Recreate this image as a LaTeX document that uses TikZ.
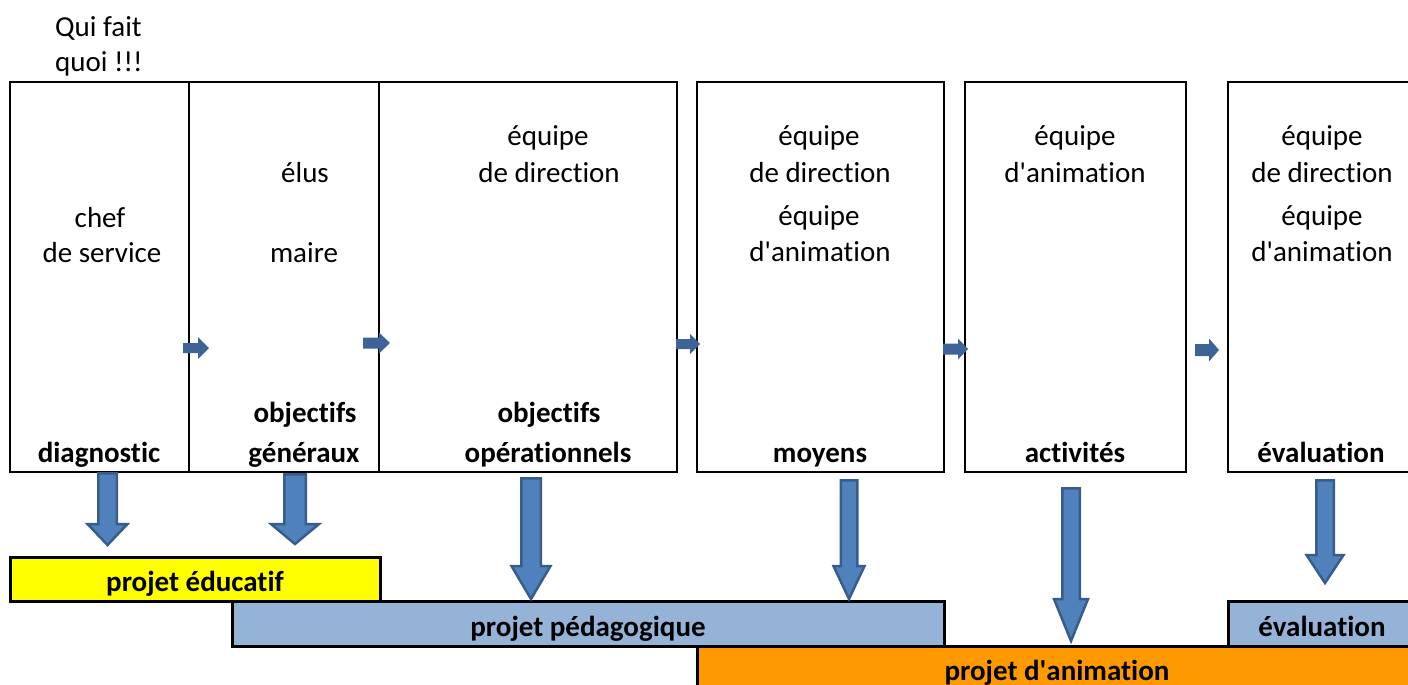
\documentclass[tikz,border=0pt]{standalone}
\usepackage{fontspec}
\setmainfont{Carlito}[Ligatures={NoCommon}]
\definecolor{arrfill}{HTML}{4F81BD}
\definecolor{arrline}{HTML}{385D8A}
\definecolor{harr}{HTML}{3C6496}
\definecolor{barblue}{HTML}{95B3D7}
\definecolor{baryellow}{HTML}{FFFF00}
\definecolor{barorange}{HTML}{FF9900}
\newcommand\dnarrow[6]{%
  \draw[bigarr] ({#1-#5/2+1.25},{#2+1.25}) -- ({#1+#5/2-1.25},{#2+1.25}) -- ({#1+#5/2-1.25},#3)
    -- ({#1+#6/2-1.5},#3) -- (#1,{#4-2}) -- ({#1-#6/2+1.5},#3) -- ({#1-#5/2+1.25},#3) -- cycle;}
\newcommand\rtarrow[6]{%
  \fill[harr] (#1,{#3-#5}) -- (#4,{#3-#5}) -- (#4,{#3-#6}) -- (#2,#3) -- (#4,{#3+#6})
    -- (#4,{#3+#5}) -- (#1,{#3+#5}) -- cycle;}
\newcommand\apos{\textquotesingle}
\begin{document}
\begin{tikzpicture}[x=1pt,y=-1pt,
  box/.style={draw, line width=2pt, inner sep=0pt, outer sep=0pt, anchor=north west, minimum height=390pt},
  bar/.style={draw, line width=3pt, inner sep=0pt, outer sep=0pt, anchor=north west, minimum height=45pt},
  txt/.style={anchor=base, inner sep=0pt, font=\fontsize{29}{36}\selectfont},
  btxt/.style={anchor=base, inner sep=0pt, font=\fontsize{29}{36}\selectfont\bfseries},
  bigarr/.style={fill=arrfill, draw=arrline, line width=2.5pt, line join=miter}]
\useasboundingbox (0,0) rectangle (1408,685);
\clip (0,0) rectangle (1408,685);
% title
\node[anchor=base west, inner sep=0pt, font=\fontsize{29}{36}\selectfont] (q1) at (55,37) {Qui fait};
\node[anchor=base west, inner sep=0pt, font=\fontsize{29}{36}\selectfont] (q2) at (55,72) {quoi !!!};
% boxes
\node[box, minimum width=179pt] (b1) at (10,82) {};
\node[box, minimum width=190pt] (b2) at (189,82) {};
\node[box, minimum width=298pt] (b3) at (379,82) {};
\node[box, minimum width=247pt] (b4) at (697,82) {};
\node[box, minimum width=221pt] (b5) at (965,82) {};
\node[box, minimum width=190pt] (b6) at (1228,82) {};
% box texts
\node[txt] (t11) at (100,227) {chef};
\node[txt] (t12) at (102,262) {de service};
\node[btxt] (t13) at (99,462) {diagnostic};
\node[txt] (t21) at (305,182) {élus};
\node[txt] (t22) at (304,262) {maire};
\node[btxt] (t23) at (305,422) {objectifs};
\node[btxt] (t24) at (304,462) {généraux};
\node[txt] (t31) at (548,145) {équipe};
\node[txt] (t32) at (549,182) {de direction};
\node[btxt] (t33) at (549,422) {objectifs};
\node[btxt] (t34) at (548,462) {opérationnels};
\node[txt] (t41) at (819,145) {équipe};
\node[txt] (t42) at (820,182) {de direction};
\node[txt] (t43) at (819,225) {équipe};
\node[txt] (t44) at (820,261) {d\apos animation};
\node[btxt] (t45) at (820,462) {moyens};
\node[txt] (t51) at (1075,145) {équipe};
\node[txt] (t52) at (1075,182) {d\apos animation};
\node[btxt] (t53) at (1075,462) {activités};
\node[txt] (t61) at (1322,145) {équipe};
\node[txt] (t62) at (1322,182) {de direction};
\node[txt] (t63) at (1322,225) {équipe};
\node[txt] (t64) at (1322,261) {d\apos animation};
\node[btxt] (t65) at (1321,462) {évaluation};
% small arrows between boxes
\rtarrow{183}{209}{348}{198}{5}{11}
\rtarrow{363}{390}{343}{379}{5.5}{10.5}
\rtarrow{676}{700}{344}{690}{5}{10}
\rtarrow{943}{968}{349}{958}{5.5}{10.5}
\rtarrow{1195}{1219}{350}{1209}{6}{11.5}
% bars
\node[bar, fill=baryellow, minimum width=370pt, minimum height=44pt] (pe) at (10,557) {};
\node[bar, fill=barblue, minimum width=712pt] (pp) at (232,601) {};
\node[bar, fill=barblue, minimum width=190pt] (pv) at (1228,601) {};
\node[bar, fill=barorange, minimum width=722pt] (pa) at (697,646) {};
\node[btxt] (tpe) at (195,591) {projet éducatif};
\node[btxt] (tpp) at (588,636) {projet pédagogique};
\node[btxt] (tpv) at (1322,636) {évaluation};
\node[btxt] (tpa) at (1057,680) {projet d\apos animation};
% big down arrows
\dnarrow{107.5}{472}{524}{547}{21}{43}
\dnarrow{295}{473}{524}{546}{24}{51}
\dnarrow{531}{477}{566}{601}{22}{42}
\dnarrow{849}{479}{566}{601}{19}{34}
\dnarrow{1071}{487}{599}{643}{20}{37}
\dnarrow{1325}{479}{555}{585}{20}{40}
\end{tikzpicture}
\end{document}
